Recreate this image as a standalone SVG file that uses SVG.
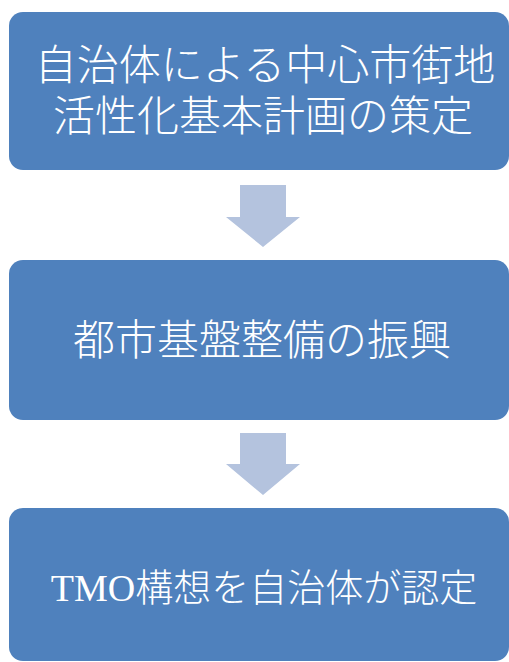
<svg xmlns="http://www.w3.org/2000/svg" width="509" height="662" viewBox="0 0 509 662">
<style>
.box{fill:#4F81BD;}
.arr{fill:#B4C3DE;}
.t{fill:#FFFFFF;font-family:"Liberation Serif","Noto Sans CJK JP",serif;text-anchor:middle;}
.j{font-family:"Noto Sans CJK JP","Noto Sans CJK SC",sans-serif;font-weight:300;}
</style>
<rect width="509" height="662" fill="#FFFFFF"/>
<g id="node1">
<rect class="box" x="9" y="12" width="500" height="158" rx="14"/>
<text class="t j" font-size="42"><tspan x="265" y="80">自治体による中心市街地</tspan><tspan x="263" y="131">活性化基本計画の策定</tspan></text>
</g>
<g id="node2">
<rect class="box" x="9" y="260" width="500" height="160" rx="14"/>
<text class="t j" x="262" y="355" font-size="42">都市基盤整備の振興</text>
</g>
<g id="node3">
<rect class="box" x="9" y="508" width="500" height="153" rx="14"/>
<text class="t" x="264" y="601" font-size="38"><tspan font-family="Liberation Serif">TMO</tspan><tspan class="j">構想を自治体が認定</tspan></text>
</g>
<g id="connectors">
<polygon class="arr" points="240,185 286,185 286,217 300,217 263,247 226,217 240,217"/>
<polygon class="arr" points="240,433 286,433 286,464 300,464 263,495 226,464 240,464"/>
</g>
</svg>
